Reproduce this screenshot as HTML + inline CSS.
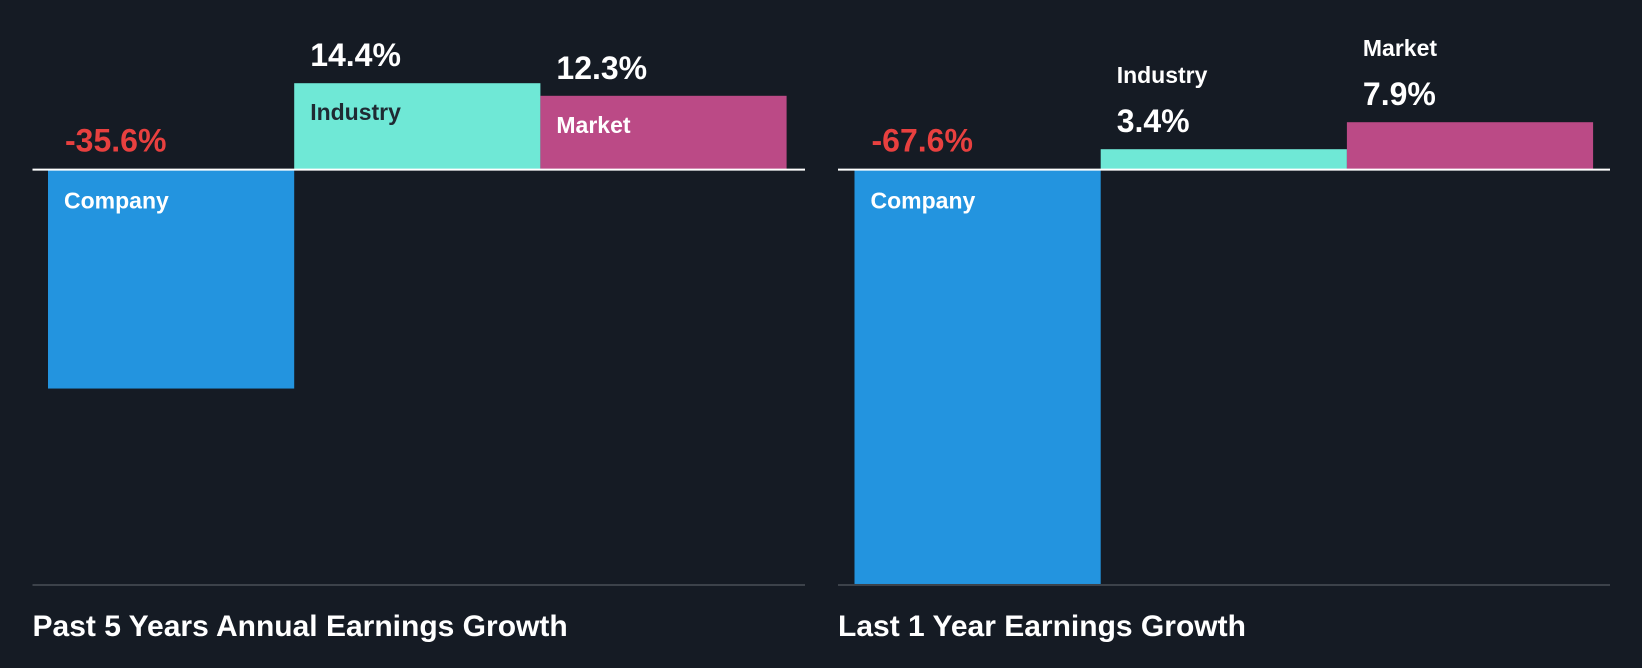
<!DOCTYPE html>
<html><head><meta charset="utf-8"><style>
html,body{margin:0;padding:0;background:#151b24;}
svg{display:block;font-family:"Liberation Sans",Arial,sans-serif;font-weight:bold;}
</style></head><body>
<svg id="chart" width="1642" height="668" viewBox="0 0 1642 668">
<rect x="0" y="0" width="1642" height="668" fill="#151b24"/>
</svg>
<script>
const categories = ["Company","Industry","Market"];
const panelTitles = ["Past 5 Years Annual Earnings Growth","Last 1 Year Earnings Growth"];
const past5Values = [-35.6, 14.4, 12.3];
const last1Values = [-67.6, 3.4, 7.9];
const valueLabels5 = ["-35.6%","14.4%","12.3%"];
const valueLabels1 = ["-67.6%","3.4%","7.9%"];

const svg = document.getElementById('chart');
const NS = 'http://www.w3.org/2000/svg';
const colors = ["#2394df","#6fe8d6","#bb4a86"];
const baseY = 169.6, pxPerUnit = 6.0;
function yScale(v){ return baseY - v*pxPerUnit; }
function mk(tag, attrs){ const e=document.createElementNS(NS,tag); for(const k in attrs) e.setAttribute(k,attrs[k]); svg.appendChild(e); return e; }

const panels = [
  {x0:32.5, x1:805, barX:48, values:past5Values, labels:valueLabels5, title:panelTitles[0], negScale:6.15},
  {x0:838, x1:1610, barX:854.5, values:last1Values, labels:valueLabels1, title:panelTitles[1], negScale:6.13}
];
const barW = 246.2;
panels.forEach((p, pi) => {
  p.values.forEach((v, i) => {
    const x = p.barX + i*barW;
    const yv = v < 0 ? baseY - v*p.negScale : yScale(v);
    const y0 = Math.min(yv, baseY), y1 = Math.max(yv, baseY);
    const r = mk('rect',{x:x,y:y0,width:barW,height:y1-y0,fill:colors[i]});
    
    
    const tx = x + 16;
    if (v < 0) {
      const vl = mk('text',{x:tx+1,y:baseY-18,fill:'#e8403f','font-size':32});
      vl.textContent = p.labels[i];
      
      
      const cl = mk('text',{x:tx,y:baseY+39,fill:'#ffffff','font-size':23});
      cl.textContent = categories[i];
      
      
    } else {
      const top = yv;
      const vl = mk('text',{x:tx,y:top-17,fill:'#ffffff','font-size':32});
      vl.textContent = p.labels[i];
      
      
      const inside = (y1-y0) > 60;
      const cl = mk('text',{x:tx,y:inside? top+37 : top-66,fill: inside && i===1 ? '#1f2a33' : '#ffffff','font-size':23});
      cl.textContent = categories[i];
      
      
    }
  });
  const zl = mk('line',{x1:p.x0,x2:p.x1,y1:baseY,y2:baseY,stroke:'#ffffff','stroke-width':2});
  
  
  const bl = mk('line',{x1:p.x0,x2:p.x1,y1:585,y2:585,stroke:'#3c424a','stroke-width':2});
  
  
  const t = mk('text',{x:p.x0,y:636,fill:'#ffffff','font-size':30});
  t.textContent = p.title;
  
  
});
</script>
</body></html>
